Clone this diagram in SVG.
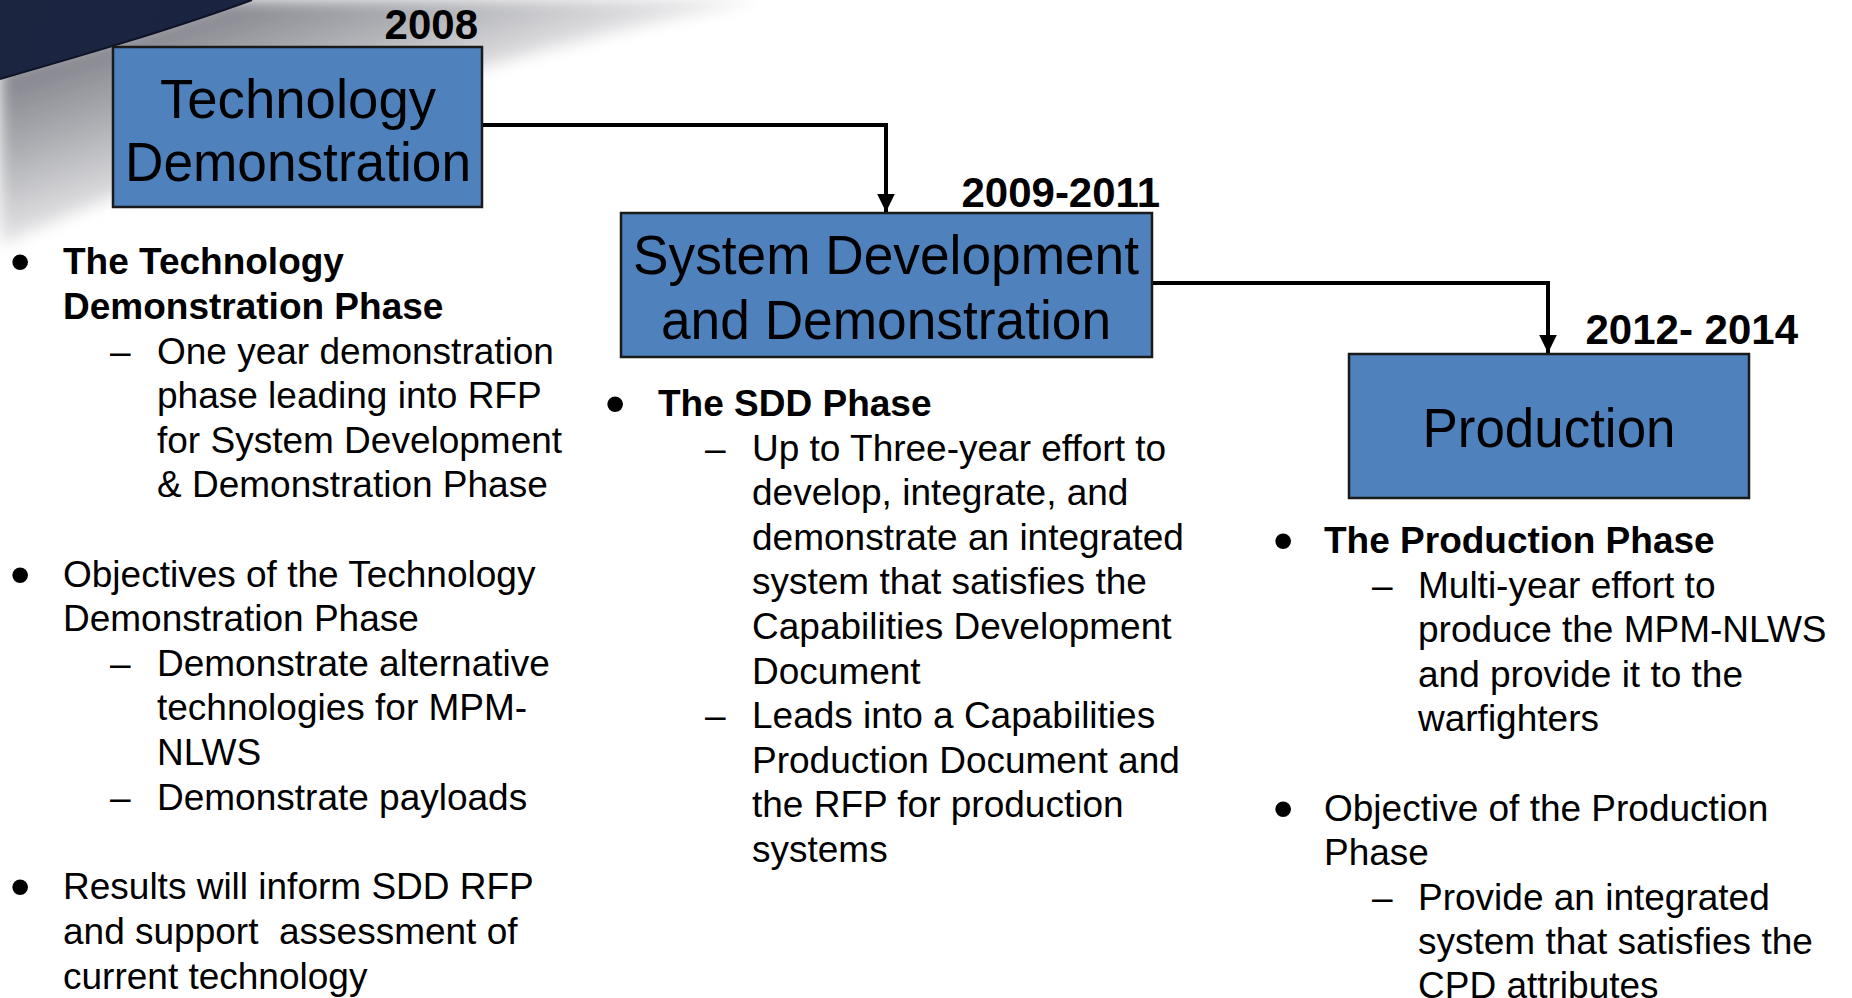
<svg xmlns="http://www.w3.org/2000/svg" width="1852" height="998" viewBox="0 0 1852 998">
<defs>
<linearGradient id="shade" gradientUnits="userSpaceOnUse" x1="124" y1="39" x2="200" y2="260">
<stop offset="0" stop-color="#85868e"/>
<stop offset="0.3" stop-color="#acadb2"/>
<stop offset="0.65" stop-color="#e2e2e4"/>
<stop offset="1" stop-color="#ffffff"/>
</linearGradient>
<linearGradient id="navy" gradientUnits="userSpaceOnUse" x1="0" y1="0" x2="200" y2="60">
<stop offset="0" stop-color="#1c2540"/>
<stop offset="1" stop-color="#1a2440"/>
</linearGradient>
<filter id="soft" x="-20%" y="-20%" width="140%" height="140%">
<feGaussianBlur stdDeviation="8"/>
</filter>
<marker id="arrow" markerWidth="4.5" markerHeight="4.4" refX="4.5" refY="2.2" orient="auto" markerUnits="strokeWidth">
<path d="M0,0 L4.5,2.2 L0,4.4 Z" fill="#000"/>
</marker>
<style>
.box{fill:#4f81bd;stroke:#1a1a1a;stroke-width:2.5}
.boxt{font-family:"Liberation Sans",Arial,sans-serif;font-size:56px;fill:#000;text-anchor:middle}
.year{font-family:"Liberation Sans",Arial,sans-serif;font-size:42px;font-weight:bold;fill:#000;text-anchor:end}
.t{font-family:"Liberation Sans",Arial,sans-serif;font-size:37px;fill:#000}
.bul{font-family:"Liberation Sans",Arial,sans-serif;font-size:58px;fill:#000}
.b{font-weight:bold}
.conn{fill:none;stroke:#000;stroke-width:4}
</style>
</defs>
<rect width="1852" height="998" fill="#ffffff"/>
<g id="background">
<path d="M230,0 L760,0 C500,50 240,140 0,245 L0,70 C80,48 170,22 230,0 Z" fill="url(#shade)" filter="url(#soft)"/>
<path d="M0,0 L252,0 C170,30 80,56 0,79 Z" fill="url(#navy)"/>
<path d="M252,0 C170,30 80,56 0,79" fill="none" stroke="#0e1426" stroke-width="2"/>
</g>
<g id="connectors">
<path class="conn" d="M482,125 L886,125 L886,212" marker-end="url(#arrow)"/>
<path class="conn" d="M1152,283 L1548,283 L1548,353" marker-end="url(#arrow)"/>
</g>
<g id="node-tech-demo">
<text class="year" x="478" y="39">2008</text>
<rect class="box" x="113" y="47" width="369" height="160"/>
<text class="boxt" x="298" y="118" textLength="276" lengthAdjust="spacingAndGlyphs">Technology</text>
<text class="boxt" x="298" y="181" textLength="346" lengthAdjust="spacingAndGlyphs">Demonstration</text>
</g>
<g id="node-sdd">
<text class="year" x="1160" y="207">2009-2011</text>
<rect class="box" x="621" y="213" width="531" height="144"/>
<text class="boxt" x="886" y="274" textLength="506" lengthAdjust="spacingAndGlyphs">System Development</text>
<text class="boxt" x="886" y="339" textLength="450" lengthAdjust="spacingAndGlyphs">and Demonstration</text>
</g>
<g id="node-production">
<text class="year" x="1798" y="344">2012- 2014</text>
<rect class="box" x="1349" y="354" width="400" height="144"/>
<text class="boxt" x="1549" y="447" textLength="253" lengthAdjust="spacingAndGlyphs">Production</text>
</g>
<g id="text-left">
<text class="bul" x="10" y="281">•</text>
<text class="t b" x="63" y="274">The Technology</text>
<text class="t b" x="63" y="319">Demonstration Phase</text>
<text class="t" x="110" y="364">–</text>
<text class="t" x="157" y="364">One year demonstration</text>
<text class="t" x="157" y="408">phase leading into RFP</text>
<text class="t" x="157" y="453">for System Development</text>
<text class="t" x="157" y="497">&amp; Demonstration Phase</text>
<text class="bul" x="10" y="594">•</text>
<text class="t" x="63" y="587">Objectives of the Technology</text>
<text class="t" x="63" y="631">Demonstration Phase</text>
<text class="t" x="110" y="676">–</text>
<text class="t" x="157" y="676">Demonstrate alternative</text>
<text class="t" x="157" y="720">technologies for MPM-</text>
<text class="t" x="157" y="765">NLWS</text>
<text class="t" x="110" y="810">–</text>
<text class="t" x="157" y="810">Demonstrate payloads</text>
<text class="bul" x="10" y="906">•</text>
<text class="t" x="63" y="899">Results will inform SDD RFP</text>
<text class="t" x="63" y="944" xml:space="preserve">and support  assessment of</text>
<text class="t" x="63" y="989">current technology</text>
</g>
<g id="text-middle">
<text class="bul" x="605" y="423">•</text>
<text class="t b" x="658" y="416">The SDD Phase</text>
<text class="t" x="705" y="461">–</text>
<text class="t" x="752" y="461">Up to Three-year effort to</text>
<text class="t" x="752" y="505">develop, integrate, and</text>
<text class="t" x="752" y="550">demonstrate an integrated</text>
<text class="t" x="752" y="594">system that satisfies the</text>
<text class="t" x="752" y="639">Capabilities Development</text>
<text class="t" x="752" y="684">Document</text>
<text class="t" x="705" y="728">–</text>
<text class="t" x="752" y="728">Leads into a Capabilities</text>
<text class="t" x="752" y="773">Production Document and</text>
<text class="t" x="752" y="817">the RFP for production</text>
<text class="t" x="752" y="862">systems</text>
</g>
<g id="text-right">
<text class="bul" x="1273" y="560">•</text>
<text class="t b" x="1324" y="553">The Production Phase</text>
<text class="t" x="1372" y="598">–</text>
<text class="t" x="1418" y="598">Multi-year effort to</text>
<text class="t" x="1418" y="642">produce the MPM-NLWS</text>
<text class="t" x="1418" y="687">and provide it to the</text>
<text class="t" x="1418" y="731">warfighters</text>
<text class="bul" x="1273" y="828">•</text>
<text class="t" x="1324" y="821">Objective of the Production</text>
<text class="t" x="1324" y="865">Phase</text>
<text class="t" x="1372" y="910">–</text>
<text class="t" x="1418" y="910">Provide an integrated</text>
<text class="t" x="1418" y="954">system that satisfies the</text>
<text class="t" x="1418" y="998">CPD attributes</text>
</g>
</svg>
